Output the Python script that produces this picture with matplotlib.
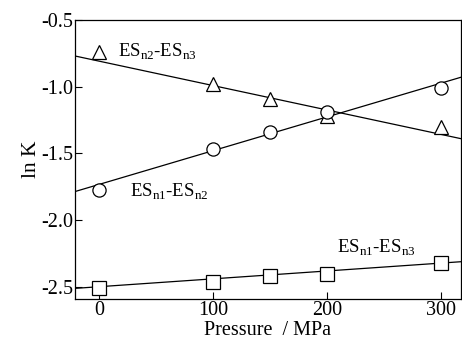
import numpy as np
import matplotlib
matplotlib.use('Agg')
from matplotlib import pyplot as plt

# data
pressure = [0, 100, 150, 200, 300]
n2_n3 = [-0.74, -0.98, -1.09, -1.22, -1.30]
n1_n2 = [-1.77, -1.47, -1.34, -1.19, -1.01]
n1_n3 = [-2.51, -2.46, -2.42, -2.40, -2.32]

# fitted straight lines (intercept, slope) as drawn in the reference
fit_n2_n3 = (-0.808, -0.00183)
fit_n1_n2 = (-1.732, 0.00253)
fit_n1_n3 = (-2.498, 0.00059)

yticks = [-2.5, -2.0, -1.5, -1.0, -0.5]
xticks = [0, 100, 200, 300]

plt.rcParams['font.family'] = ['Liberation Serif', 'DejaVu Serif']
plt.rcParams['mathtext.fontset'] = 'custom'
plt.rcParams['mathtext.rm'] = 'Liberation Serif'

fig = plt.figure(figsize=(4.62, 3.45), dpi=100)
ax = fig.add_axes([75 / 462, 1 - 299 / 345, 386 / 462, 279 / 345])

xlim = (-21, 317.5)
xs = np.array(xlim)
mk = dict(color='black', markerfacecolor='white', markeredgecolor='black',
          markersize=9.5, markeredgewidth=0.9, linestyle='none', zorder=3)

for fit in (fit_n2_n3, fit_n1_n2, fit_n1_n3):
    ax.plot(xs, fit[0] + fit[1] * xs, color='black', lw=0.9, zorder=2)

ax.plot(pressure, n2_n3, marker='^', **mk)
ax.plot(pressure, n1_n2, marker='o', **mk)
ax.plot(pressure, n1_n3, marker='s', **mk)

lbl = dict(fontsize=13.5, va='center')
ax.text(17, -0.74, r'ES$_{\mathrm{n2}}$-ES$_{\mathrm{n3}}$', **lbl)
ax.text(27, -1.79, r'ES$_{\mathrm{n1}}$-ES$_{\mathrm{n2}}$', **lbl)
ax.text(209, -2.21, r'ES$_{\mathrm{n1}}$-ES$_{\mathrm{n3}}$', **lbl)

ax.set_xlim(*xlim)
ax.set_ylim(-2.59, -0.5)
ax.set_xticks(xticks)
ax.set_yticks(yticks)
ax.set_yticklabels([f'{v:.1f}' for v in yticks])
ax.tick_params(direction='in', length=5, width=0.8, labelsize=14.5, pad=1.5)
for s in ax.spines.values():
    s.set_linewidth(0.9)

ax.set_xlabel('Pressure  / MPa', fontsize=14.5, labelpad=1)
ax.set_ylabel('ln K', fontsize=15.5, labelpad=0)

fig.savefig('out.png', dpi=100)
